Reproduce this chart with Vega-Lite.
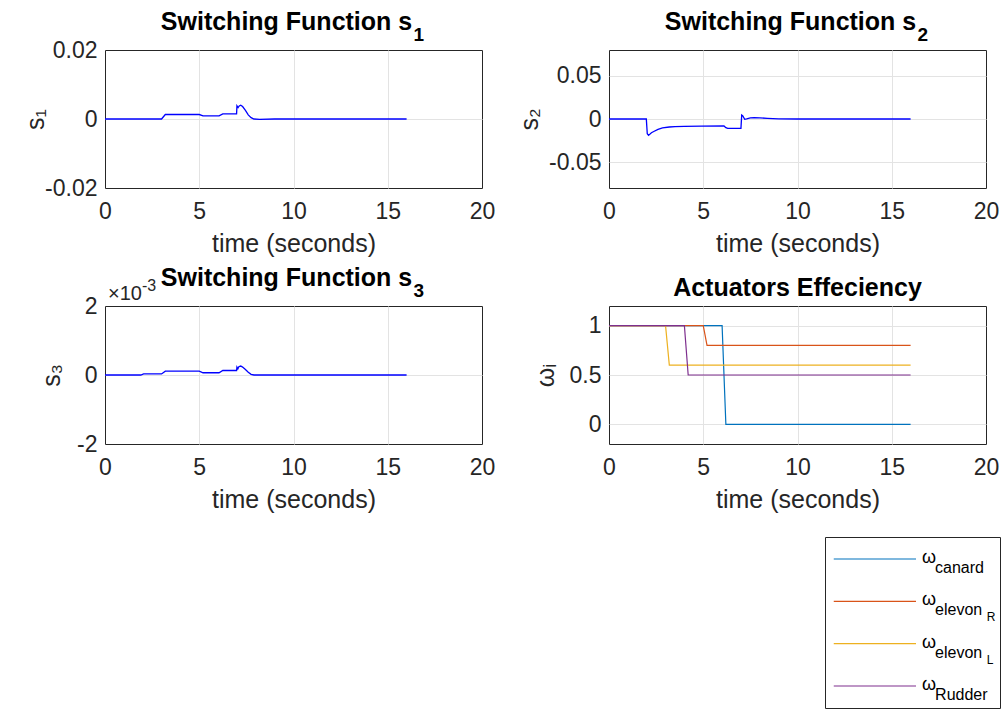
{
  "$schema": "https://vega.github.io/schema/vega-lite/v6.json",
  "background": "white",
  "padding": {"left": 22, "top": 9, "right": 0, "bottom": 0},
  "config": {
    "font": "Liberation Sans",
    "view": {"stroke": "#262626", "strokeWidth": 1},
    "axis": {
      "grid": true, "gridColor": "#e3e3e3", "gridWidth": 1,
      "domain": false, "ticks": false,
      "labelFont": "Liberation Sans", "labelFontSize": 23, "labelColor": "#262626",
      "titleFont": "Liberation Sans", "titleFontSize": 25, "titleFontWeight": "normal", "titleColor": "#262626",
      "labelFlush": false, "labelOverlap": false, "labelBound": false
    },
    "title": {"font": "Liberation Sans", "fontSize": 25, "fontWeight": "bold", "color": "#000000", "anchor": "middle", "frame": "group", "baseline": "alphabetic", "offset": 20}
  },
  "datasets": {
    "s1": [
      {"t": 0, "v": 0}, {"t": 3.0, "v": 0}, {"t": 3.2, "v": 0.0013}, {"t": 5.0, "v": 0.0013}, {"t": 5.2, "v": 0.0009},
      {"t": 6.05, "v": 0.0009}, {"t": 6.25, "v": 0.0015}, {"t": 6.98, "v": 0.0015}, {"t": 7.0, "v": 0.0038}, {"t": 7.06, "v": 0.0033},
      {"t": 7.12, "v": 0.0038}, {"t": 7.2, "v": 0.0040}, {"t": 7.3, "v": 0.0036}, {"t": 7.45, "v": 0.0025}, {"t": 7.6, "v": 0.0012},
      {"t": 7.75, "v": 0.0004}, {"t": 7.9, "v": 0.0}, {"t": 8.2, "v": -0.0001}, {"t": 9.0, "v": 0}, {"t": 16, "v": 0}
    ],
    "s2": [
      {"t": 0, "v": 0}, {"t": 1.98, "v": 0}, {"t": 2.03, "v": -0.017}, {"t": 2.1, "v": -0.019}, {"t": 2.25, "v": -0.016},
      {"t": 2.4, "v": -0.0142}, {"t": 2.6, "v": -0.012}, {"t": 2.84, "v": -0.0104}, {"t": 3.2, "v": -0.0093}, {"t": 3.5, "v": -0.0089},
      {"t": 4.0, "v": -0.0085}, {"t": 4.9, "v": -0.0082}, {"t": 6.1, "v": -0.0081}, {"t": 6.2, "v": -0.0100}, {"t": 6.3, "v": -0.0108},
      {"t": 7.0, "v": -0.0108}, {"t": 7.04, "v": 0.0045}, {"t": 7.1, "v": 0.0035}, {"t": 7.2, "v": -0.0003}, {"t": 7.3, "v": 0.0002},
      {"t": 7.5, "v": 0.0014}, {"t": 7.7, "v": 0.0016}, {"t": 8.0, "v": 0.0013}, {"t": 8.4, "v": 0.0008}, {"t": 9.0, "v": 0.0002},
      {"t": 10, "v": 0}, {"t": 16, "v": 0}
    ],
    "s3": [
      {"t": 0, "v": 0}, {"t": 1.9, "v": 0}, {"t": 2.05, "v": 0.00003}, {"t": 3.0, "v": 0.00003}, {"t": 3.2, "v": 0.00011},
      {"t": 5.0, "v": 0.00011}, {"t": 5.2, "v": 0.000065}, {"t": 6.05, "v": 0.000065}, {"t": 6.25, "v": 0.00013}, {"t": 6.98, "v": 0.00013},
      {"t": 7.0, "v": 0.00023}, {"t": 7.05, "v": 0.00018}, {"t": 7.1, "v": 0.00024}, {"t": 7.2, "v": 0.00026}, {"t": 7.3, "v": 0.00023},
      {"t": 7.45, "v": 0.00016}, {"t": 7.6, "v": 0.00008}, {"t": 7.75, "v": 0.00002}, {"t": 7.9, "v": 0}, {"t": 16, "v": 0}
    ],
    "omega": [
      {"t": 0, "v": 1, "series": "canard"}, {"t": 6.0, "v": 1, "series": "canard"}, {"t": 6.2, "v": 0, "series": "canard"}, {"t": 16, "v": 0, "series": "canard"},
      {"t": 0, "v": 1, "series": "elevonR"}, {"t": 5.0, "v": 1, "series": "elevonR"}, {"t": 5.2, "v": 0.8, "series": "elevonR"}, {"t": 16, "v": 0.8, "series": "elevonR"},
      {"t": 0, "v": 1, "series": "elevonL"}, {"t": 3.0, "v": 1, "series": "elevonL"}, {"t": 3.2, "v": 0.6, "series": "elevonL"}, {"t": 16, "v": 0.6, "series": "elevonL"},
      {"t": 0, "v": 1, "series": "Rudder"}, {"t": 4.0, "v": 1, "series": "Rudder"}, {"t": 4.2, "v": 0.5, "series": "Rudder"}, {"t": 16, "v": 0.5, "series": "Rudder"}
    ],
    "legend": [
      {"series": "canard", "name": "canard", "sub": ""},
      {"series": "elevonR", "name": "elevon", "sub": "R"},
      {"series": "elevonL", "name": "elevon", "sub": "L"},
      {"series": "Rudder", "name": "Rudder", "sub": ""}
    ],
    "exponent": [{"base": "×10", "exp": "-3"}]
  },
  "spacing": 23,
  "vconcat": [
    {
      "columns": 2,
      "bounds": "flush",
      "spacing": {"row": 118, "column": 127},
      "concat": [
        {
          "width": 377, "height": 138,
          "title": {"text": "Switching Function s", "dy": 29, "dx": -7},
          "layer": [
            {
              "data": {"name": "s1"},
              "mark": {"type": "line", "color": "#0000ff", "strokeWidth": 1.3},
              "encoding": {
                "x": {"field": "t", "type": "quantitative", "scale": {"domain": [0, 20]},
                      "axis": {"values": [0, 5, 10, 15, 20], "title": "time (seconds)", "titleBaseline": "alphabetic", "titleY": 63, "labelPadding": 12,
                               "gridOpacity": {"condition": {"test": "datum.value == 0 || datum.value == 20", "value": 0}, "value": 1}}},
                "y": {"field": "v", "type": "quantitative", "scale": {"domain": [-0.02, 0.02]},
                      "axis": {"values": [-0.02, 0, 0.02], "labelExpr": "'' + datum.value", "title": "s₁", "titleBaseline": "alphabetic", "titleX": -62, "labelPadding": 8,
                               "gridOpacity": {"condition": {"test": "abs(datum.value) > 0.019", "value": 0}, "value": 1}}}
              }
            },
            {
              "data": {"values": [{"sub": "1"}]},
              "mark": {"type": "text", "align": "left", "baseline": "alphabetic", "dx": 120, "dy": -9, "fontSize": 19, "fontWeight": "bold", "color": "#000000"},
              "encoding": {
                "x": {"datum": 10, "type": "quantitative"},
                "y": {"datum": 0.02, "type": "quantitative"},
                "text": {"field": "sub"}
              }
            }
          ]
        },
        {
          "width": 377, "height": 138,
          "title": {"text": "Switching Function s", "dy": 29, "dx": -7},
          "layer": [
            {
              "data": {"name": "s2"},
              "mark": {"type": "line", "color": "#0000ff", "strokeWidth": 1.3},
              "encoding": {
                "x": {"field": "t", "type": "quantitative", "scale": {"domain": [0, 20]},
                      "axis": {"values": [0, 5, 10, 15, 20], "title": "time (seconds)", "titleBaseline": "alphabetic", "titleY": 63, "labelPadding": 12,
                               "gridOpacity": {"condition": {"test": "datum.value == 0 || datum.value == 20", "value": 0}, "value": 1}}},
                "y": {"field": "v", "type": "quantitative", "scale": {"domain": [-0.08, 0.08]},
                      "axis": {"values": [-0.05, 0, 0.05], "labelExpr": "'' + datum.value", "title": "s₂", "titleBaseline": "alphabetic", "titleX": -72, "labelPadding": 8}}
              }
            },
            {
              "data": {"values": [{"sub": "2"}]},
              "mark": {"type": "text", "align": "left", "baseline": "alphabetic", "dx": 120, "dy": -9, "fontSize": 19, "fontWeight": "bold", "color": "#000000"},
              "encoding": {
                "x": {"datum": 10, "type": "quantitative"},
                "y": {"datum": 0.08, "type": "quantitative"},
                "text": {"field": "sub"}
              }
            }
          ]
        },
        {
          "width": 377, "height": 138,
          "title": {"text": "Switching Function s", "dy": 33, "dx": -7},
          "layer": [
            {
              "data": {"name": "s3"},
              "mark": {"type": "line", "color": "#0000ff", "strokeWidth": 1.3},
              "encoding": {
                "x": {"field": "t", "type": "quantitative", "scale": {"domain": [0, 20]},
                      "axis": {"values": [0, 5, 10, 15, 20], "title": "time (seconds)", "titleBaseline": "alphabetic", "titleY": 63, "labelPadding": 12,
                               "gridOpacity": {"condition": {"test": "datum.value == 0 || datum.value == 20", "value": 0}, "value": 1}}},
                "y": {"field": "v", "type": "quantitative", "scale": {"domain": [-0.002, 0.002]},
                      "axis": {"values": [-0.002, 0, 0.002], "labelExpr": "'' + round(datum.value * 1000)", "title": "s₃", "titleBaseline": "alphabetic", "titleX": -46, "labelPadding": 8,
                               "gridOpacity": {"condition": {"test": "abs(datum.value) > 0.0019", "value": 0}, "value": 1}}}
              }
            },
            {
              "data": {"name": "exponent"},
              "mark": {"type": "text", "align": "left", "baseline": "alphabetic", "dx": 3, "dy": -6, "fontSize": 20, "color": "#262626"},
              "encoding": {
                "x": {"datum": 0, "type": "quantitative"},
                "y": {"datum": 0.002, "type": "quantitative"},
                "text": {"field": "base"}
              }
            },
            {
              "data": {"name": "exponent"},
              "mark": {"type": "text", "align": "left", "baseline": "alphabetic", "dx": 37, "dy": -15, "fontSize": 16, "color": "#262626"},
              "encoding": {
                "x": {"datum": 0, "type": "quantitative"},
                "y": {"datum": 0.002, "type": "quantitative"},
                "text": {"field": "exp"}
              }
            },
            {
              "data": {"values": [{"sub": "3"}]},
              "mark": {"type": "text", "align": "left", "baseline": "alphabetic", "dx": 120, "dy": -9, "fontSize": 19, "fontWeight": "bold", "color": "#000000"},
              "encoding": {
                "x": {"datum": 10, "type": "quantitative"},
                "y": {"datum": 0.002, "type": "quantitative"},
                "text": {"field": "sub"}
              }
            }
          ]
        },
        {
          "width": 377, "height": 138,
          "title": {"text": "Actuators Effeciency", "offset": 11, "dy": 6},
          "data": {"name": "omega"},
          "mark": {"type": "line", "strokeWidth": 1.2},
          "encoding": {
            "x": {"field": "t", "type": "quantitative", "scale": {"domain": [0, 20]},
                  "axis": {"values": [0, 5, 10, 15, 20], "title": "time (seconds)", "titleBaseline": "alphabetic", "titleY": 63, "labelPadding": 12,
                           "gridOpacity": {"condition": {"test": "datum.value == 0 || datum.value == 20", "value": 0}, "value": 1}}},
            "y": {"field": "v", "type": "quantitative", "scale": {"domain": [-0.2, 1.2]},
                  "axis": {"values": [0, 0.5, 1], "labelExpr": "'' + datum.value", "title": "ωᵢ", "titleBaseline": "alphabetic", "titleX": -56, "labelPadding": 8}},
            "color": {"field": "series", "type": "nominal", "legend": null,
                      "scale": {"domain": ["canard", "elevonR", "elevonL", "Rudder"], "range": ["#0072BD", "#D95319", "#EDB120", "#7E2F8E"]}}
          }
        }
      ]
    },
    {
      "spacing": 0,
      "hconcat": [
        {
          "width": 719, "height": 10,
          "view": {"stroke": null},
          "data": {"values": [{"k": 1}]},
          "mark": {"type": "point", "opacity": 0}
        },
        {
          "width": 175, "height": 171,
          "data": {"name": "legend"},
          "encoding": {
            "y": {"field": "series", "type": "nominal", "axis": null,
                  "scale": {"type": "point", "domain": ["canard", "elevonR", "elevonL", "Rudder"], "padding": 0.52}}
          },
          "layer": [
            {
              "mark": {"type": "rule", "strokeWidth": 1.2},
              "encoding": {
                "x": {"datum": 0.05, "type": "quantitative", "scale": {"domain": [0, 1]}, "axis": null},
                "x2": {"datum": 0.52},
                "color": {"field": "series", "type": "nominal", "legend": null,
                          "scale": {"domain": ["canard", "elevonR", "elevonL", "Rudder"], "range": ["#0072BD", "#D95319", "#EDB120", "#7E2F8E"]}}
              }
            },
            {
              "mark": {"type": "text", "text": "ω", "align": "left", "baseline": "alphabetic", "dy": 4, "fontSize": 18, "color": "#000000"},
              "encoding": {"x": {"datum": 0.554, "type": "quantitative"}}
            },
            {
              "mark": {"type": "text", "align": "left", "baseline": "alphabetic", "dy": 14, "fontSize": 16, "color": "#000000"},
              "encoding": {"x": {"datum": 0.629, "type": "quantitative"}, "text": {"field": "name"}}
            },
            {
              "mark": {"type": "text", "align": "left", "baseline": "alphabetic", "dy": 20, "fontSize": 12, "color": "#000000"},
              "encoding": {"x": {"datum": 0.924, "type": "quantitative"}, "text": {"field": "sub"}}
            }
          ]
        }
      ]
    }
  ]
}
